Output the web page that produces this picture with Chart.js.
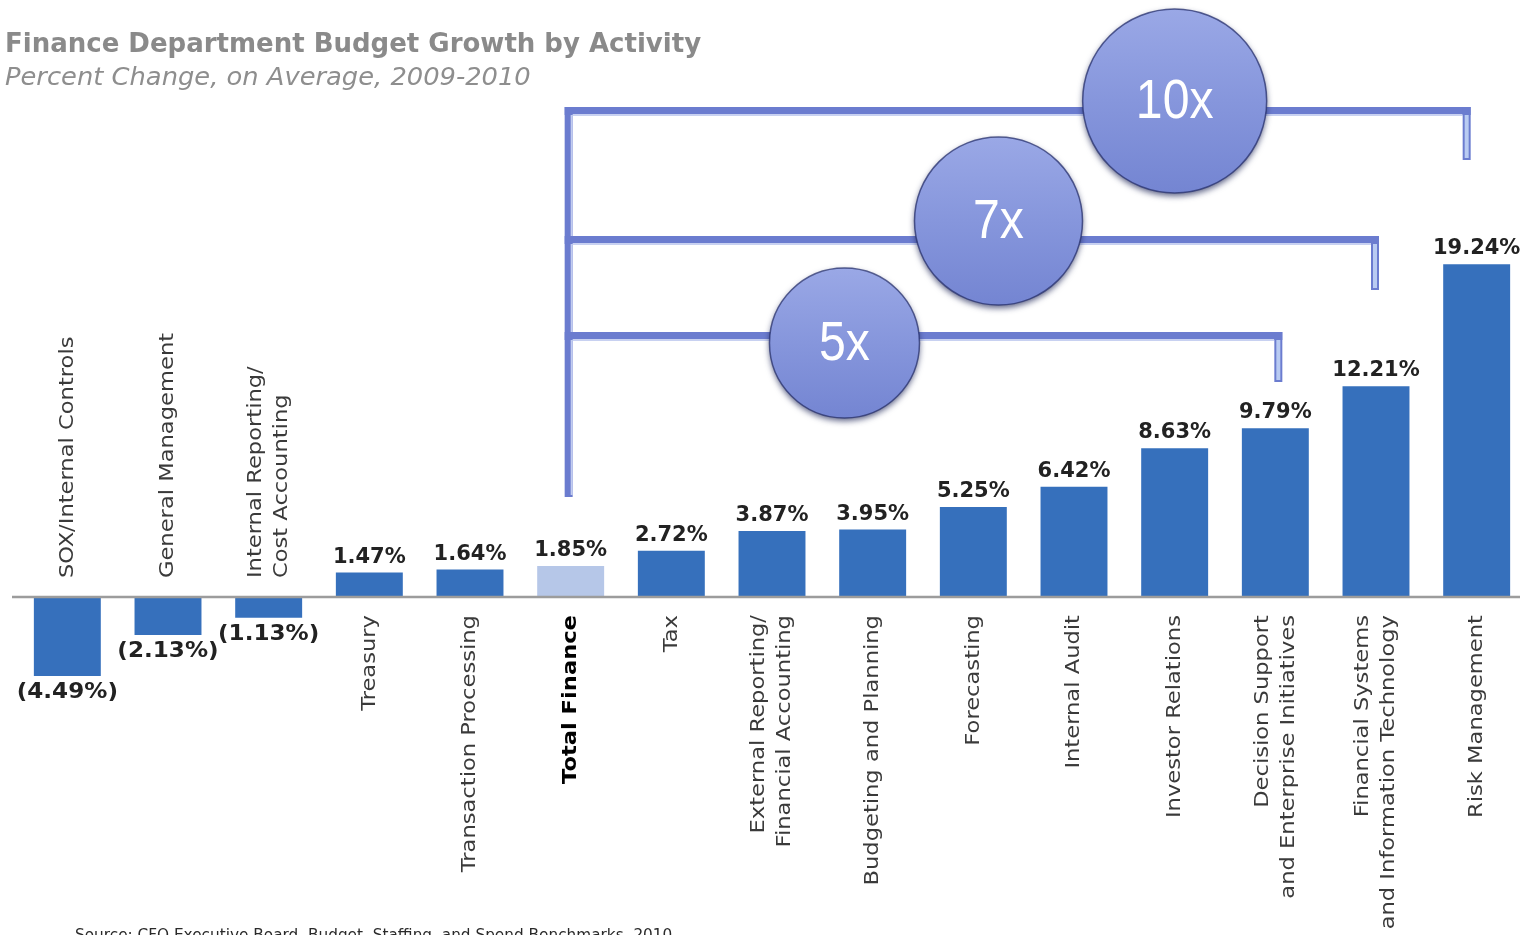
<!DOCTYPE html>
<html lang="en">
<head>
    <meta charset="UTF-8">
    <title>Finance Department Budget Growth by Activity</title>
    <script src="https://cdn.jsdelivr.net/npm/chart.js"></script>
    <style>
        html, body {
            margin: 0;
            padding: 0;
            background: #ffffff;
            overflow: hidden;
        }
        #chart-holder {
            width: 1527px;
            height: 935px;
        }
    </style>
</head>
<body>
    <div id="chart-holder">
        <canvas id="budgetChart" width="1527" height="935"></canvas>
    </div>

    <script>
        // Activities (multi-line names are split into lines)
        const activities = [
            ['SOX/Internal Controls'],
            ['General Management'],
            ['Internal Reporting/', 'Cost Accounting'],
            ['Treasury'],
            ['Transaction Processing'],
            ['Total Finance'],
            ['Tax'],
            ['External Reporting/', 'Financial Accounting'],
            ['Budgeting and Planning'],
            ['Forecasting'],
            ['Internal Audit'],
            ['Investor Relations'],
            ['Decision Support', 'and Enterprise Initiatives'],
            ['Financial Systems', 'and Information Technology'],
            ['Risk Management']
        ];

        // Percent change 2009-2010
        const growth = [-4.49, -2.13, -1.13, 1.47, 1.64, 1.85, 2.72, 3.87, 3.95, 5.25, 6.42, 8.63, 9.79, 12.21, 19.24];

        // Index of the overall finance bar
        const totalIndex = 5;

        // Multiples compared with total finance
        const multipleLabels = ['5x', '7x', '10x'];
        const multipleTargets = [12, 13, 14];

        const titleText = 'Finance Department Budget Growth by Activity';
        const subtitleText = 'Percent Change, on Average, 2009-2010';
        const sourceText = 'Source: CFO Executive Board, Budget, Staffing, and Spend Benchmarks, 2010';

        const BAR_BLUE = '#3670bc';
        const BAR_LIGHT = '#b6c7e8';
        const LINE_BLUE = '#6b7ccf';

        function fmt(v) {
            const s = Math.abs(v).toFixed(2) + '%';
            return v < 0 ? '(' + s + ')' : s;
        }

        // bracket geometry: [horizontal y, drop end y, bubble x (category units), bubble y, radius, end nudge]
        const bracketStyle = [
            { y: 336, dropTo: 382, bx: 7.72, by: 343, r: 75, nudge: 3 },
            { y: 240, dropTo: 290, bx: 9.25, by: 221, r: 84, nudge: -1 },
            { y: 111, dropTo: 160, bx: 11.0, by: 101, r: 92, nudge: -10 }
        ];

        // draw text stretched horizontally (the labels use a wide face)
        function wideText(ctx, text, x, y, sx) {
            ctx.save();
            ctx.translate(x, y);
            ctx.scale(sx, 1);
            ctx.fillText(text, 0, 0);
            ctx.restore();
        }

        const decorations = {
            id: 'decorations',
            afterDatasetsDraw(chart) {
                const ctx = chart.ctx;
                const xs = chart.scales.x;
                const ys = chart.scales.y;
                const zeroY = ys.getPixelForValue(0);

                ctx.save();

                // baseline
                ctx.strokeStyle = '#9c9c9c';
                ctx.lineWidth = 2.5;
                ctx.beginPath();
                ctx.moveTo(12, zeroY - 1);
                ctx.lineTo(chart.width, zeroY - 1);
                ctx.stroke();

                // value labels
                ctx.fillStyle = '#222';
                ctx.font = 'bold 21px "DejaVu Sans"';
                ctx.textAlign = 'center';
                growth.forEach((v, i) => {
                    const cx = xs.getPixelForValue(i);
                    const py = ys.getPixelForValue(v);
                    if (v >= 0) {
                        ctx.textBaseline = 'alphabetic';
                        wideText(ctx, fmt(v), cx, py - 10, 1.0);
                    } else {
                        ctx.textBaseline = 'top';
                        wideText(ctx, fmt(v), cx, py + 6, 1.1);
                    }
                });

                // rotated category names
                activities.forEach((lines, i) => {
                    const cx = xs.getPixelForValue(i);
                    const neg = growth[i] < 0;
                    ctx.save();
                    ctx.translate(cx, neg ? zeroY - 20 : zeroY + 17);
                    ctx.rotate(-Math.PI / 2);
                    ctx.scale(1.13, 1);
                    ctx.fillStyle = i === totalIndex ? '#000' : '#3a3a3a';
                    ctx.font = (i === totalIndex ? 'bold ' : '') + '20px "DejaVu Sans"';
                    ctx.textAlign = neg ? 'left' : 'right';
                    ctx.textBaseline = 'middle';
                    const gap = 26;
                    lines.forEach((t, k) => {
                        const off = (k - (lines.length - 1) / 2) * gap;
                        ctx.fillText(t, 0, off);
                    });
                    ctx.restore();
                });

                // brackets from the total bar to the fastest growers
                const startX = xs.getPixelForValue(totalIndex) - 2;
                const topY = bracketStyle[bracketStyle.length - 1].y;
                ctx.lineCap = 'butt';
                ctx.strokeStyle = LINE_BLUE;
                ctx.lineWidth = 8;
                ctx.beginPath();
                ctx.moveTo(startX, topY - 4);
                ctx.lineTo(startX, 497);
                ctx.stroke();
                ctx.strokeStyle = '#c3cdf0';
                ctx.lineWidth = 2;
                ctx.beginPath();
                ctx.moveTo(startX + 3, topY + 4);
                ctx.lineTo(startX + 3, 495);
                ctx.stroke();

                multipleTargets.forEach((t, k) => {
                    const b = bracketStyle[k];
                    const endX = xs.getPixelForValue(t) + b.nudge;
                    // horizontal arm
                    ctx.strokeStyle = LINE_BLUE;
                    ctx.lineWidth = 8;
                    ctx.beginPath();
                    ctx.moveTo(startX - 4, b.y);
                    ctx.lineTo(endX + 4, b.y);
                    ctx.stroke();
                    ctx.strokeStyle = '#c8d1f1';
                    ctx.lineWidth = 2;
                    ctx.beginPath();
                    ctx.moveTo(startX + 4, b.y + 4);
                    ctx.lineTo(endX - 4, b.y + 4);
                    ctx.stroke();
                    // drop
                    ctx.fillStyle = LINE_BLUE;
                    ctx.fillRect(endX - 4, b.y - 4, 8, b.dropTo - b.y + 4);
                    ctx.fillStyle = '#b9cbf2';
                    ctx.fillRect(endX - 2, b.y + 4, 4, b.dropTo - b.y - 6);
                });

                // bubbles
                multipleLabels.forEach((label, k) => {
                    const b = bracketStyle[k];
                    const bx = xs.getPixelForValue(b.bx);
                    ctx.save();
                    ctx.shadowColor = 'rgba(20, 28, 80, 0.7)';
                    ctx.shadowBlur = 6;
                    ctx.shadowOffsetY = 3;
                    const g = ctx.createLinearGradient(bx, b.by - b.r, bx, b.by + b.r);
                    g.addColorStop(0, '#9aa8e6');
                    g.addColorStop(0.5, '#8696dc');
                    g.addColorStop(1, '#7485d2');
                    ctx.fillStyle = g;
                    ctx.beginPath();
                    ctx.arc(bx, b.by, b.r, 0, Math.PI * 2);
                    ctx.fill();
                    ctx.restore();
                    ctx.strokeStyle = 'rgba(40, 50, 110, 0.75)';
                    ctx.lineWidth = 1.5;
                    ctx.beginPath();
                    ctx.arc(bx, b.by, b.r, 0, Math.PI * 2);
                    ctx.stroke();

                    ctx.fillStyle = '#ffffff';
                    ctx.font = '56px "Liberation Sans Narrow", "Liberation Sans", sans-serif';
                    ctx.textAlign = 'center';
                    ctx.textBaseline = 'middle';
                    wideText(ctx, label, bx, b.by + 2, 0.86);
                });

                // titles
                ctx.textAlign = 'left';
                ctx.textBaseline = 'alphabetic';
                ctx.fillStyle = '#8a8a8a';
                ctx.font = 'bold 26px "DejaVu Sans"';
                wideText(ctx, titleText, 5, 52, 1.0);
                ctx.fillStyle = '#8e8e8e';
                ctx.font = 'italic 25px "DejaVu Sans"';
                wideText(ctx, subtitleText, 5, 85, 1.03);

                // source line, partly cut by the bottom edge
                ctx.fillStyle = '#2a2a2a';
                ctx.font = '15px "DejaVu Sans"';
                wideText(ctx, sourceText, 75, 940, 1.02);

                ctx.restore();
            }
        };

        const ctx = document.getElementById('budgetChart').getContext('2d');
        const budgetChart = new Chart(ctx, {
            type: 'bar',
            data: {
                labels: activities,
                datasets: [{
                    data: growth,
                    backgroundColor: growth.map((v, i) => i === totalIndex ? BAR_LIGHT : BAR_BLUE),
                    borderWidth: 0,
                    barPercentage: 1,
                    categoryPercentage: 0.665
                }]
            },
            options: {
                responsive: false,
                animation: false,
                layout: { padding: { left: 17, right: 0, top: 0, bottom: 0 } },
                plugins: {
                    legend: { display: false },
                    tooltip: { enabled: false }
                },
                scales: {
                    x: { display: false },
                    y: { display: false, min: -19.42, max: 34.47 }
                }
            },
            plugins: [decorations]
        });
    </script>
</body>
</html>
